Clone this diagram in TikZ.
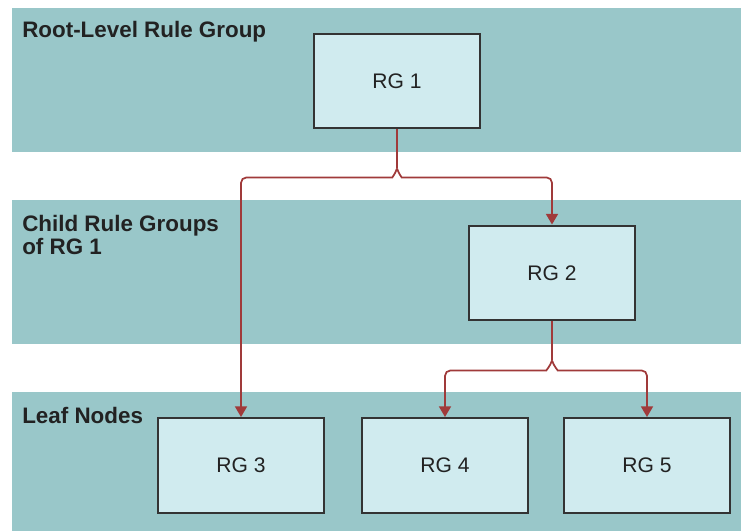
\documentclass[tikz,border=0pt]{standalone}
\usepackage{fontspec}
\setmainfont{Liberation Sans}
\usepackage{tikz}
\usetikzlibrary{arrows.meta}
\definecolor{bandteal}{RGB}{153,199,201}
\definecolor{boxfill}{RGB}{208,235,239}
\definecolor{boxline}{RGB}{51,51,51}
\definecolor{linkred}{RGB}{160,58,58}
\definecolor{labelgray}{RGB}{34,34,34}
\tikzstyle{band}=[fill=bandteal, draw=none]
\tikzstyle{rgbox}=[draw=boxline, fill=boxfill, line width=1.7pt, minimum width=125pt, minimum height=71pt, inner sep=0pt, font=\fontsize{15.8}{18}\selectfont, text=labelgray]
\tikzstyle{tier}=[anchor=north west, inner sep=0pt, align=left, font=\fontsize{16.8}{17}\selectfont\bfseries, text=labelgray]
\tikzstyle{link}=[draw=linkred, line width=1.3pt, rounded corners=4pt]
\tikzstyle{linkarrow}=[-{Triangle[width=9pt,length=8pt]}]

\begin{document}
\begin{tikzpicture}[x=0.75pt, y=-0.75pt]
		\useasboundingbox (0, 0) rectangle (741, 531);
		\fill[band] (12, 8) rectangle (741, 152);
		\fill[band] (12, 200) rectangle (741, 344);
		\fill[band] (12, 392) rectangle (741, 531);
		\node(rootlevel)[tier] at (22, 21) {Root-Level Rule Group};
		\node(childlevel)[tier] at (22, 215) {Child Rule Groups\\of RG 1};
		\node(leaflevel)[tier] at (22, 407) {Leaf Nodes};
		\node(rg1)[rgbox] at (397, 81) {RG 1};
		\node(rg2)[rgbox] at (552, 273) {RG 2};
		\node(rg3)[rgbox] at (241, 465.5) {RG 3};
		\node(rg4)[rgbox] at (445, 465.5) {RG 4};
		\node(rg5)[rgbox] at (647, 465.5) {RG 5};
		\draw[link] (rg1.south) -- ++(0, 39) coordinate (hop1);
		\draw[link, linkarrow] (hop1) .. controls +(-2, 6) and +(5, 0) .. ++(-10, 9) -| (rg3.north);
		\draw[link, linkarrow] (hop1) .. controls +(2, 6) and +(-5, 0) .. ++(10, 9) -| (rg2.north);
		\draw[link] (rg2.south) -- ++(0, 39) coordinate (hop2);
		\draw[link, linkarrow] (hop2) .. controls +(-2, 6) and +(5, 0) .. ++(-11, 10) -| (rg4.north);
		\draw[link, linkarrow] (hop2) .. controls +(2, 6) and +(-5, 0) .. ++(11, 10) -| (rg5.north);
\end{tikzpicture}
\end{document}
